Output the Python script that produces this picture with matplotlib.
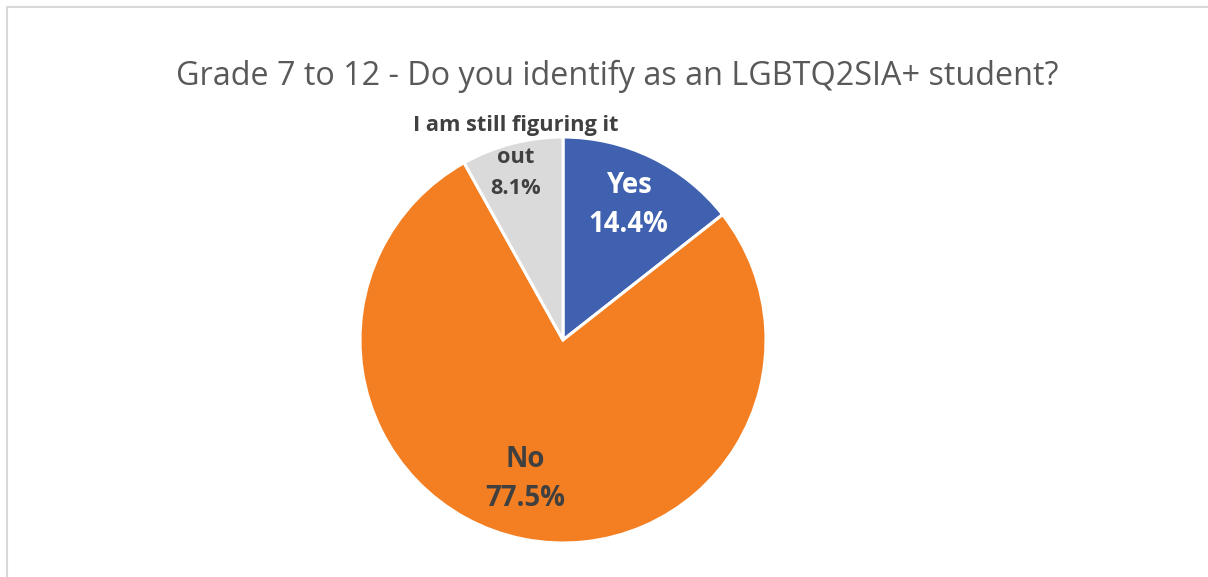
import numpy as np
import matplotlib.pyplot as plt
from matplotlib.patches import Rectangle

# survey answers, grades 7 to 12
answers = ['Yes', 'No', 'I am still figuring it\nout']
shares = [14.4, 77.5, 8.1]
colours = ['#3F61AF', '#F47F22', '#DADADA']
text_colours = ['white', '#404040', '#404040']
label_dist = [0.74, 0.71, 0.93]
label_turn = [0, -4, 0]          # degrees, nudges label off the wedge middle
label_size = [19.8, 19.8, 15.7]

W, H = 1208, 577
fig = plt.figure(figsize=(W / 100, H / 100), dpi=100)

# thin grey chart frame (right/bottom run off the image)
fig.patches.append(Rectangle((7 / W, -0.1), 1.2, (H - 7) / H + 0.1,
                             transform=fig.transFigure, fill=False,
                             edgecolor='#D9D9D9', linewidth=1.5))

cx, cy, R = 563, 340, 203
ax = fig.add_axes([(cx - R) / W, (H - cy - R) / H, 2 * R / W, 2 * R / H])
wedges, _ = ax.pie(shares, colors=colours, startangle=90, counterclock=False,
                   radius=1, wedgeprops=dict(edgecolor='white', linewidth=2.2))
ax.set_xlim(-1, 1)
ax.set_ylim(-1, 1)
ax.set_aspect('auto')
ax.axis('off')

# data labels, one text per line so the boxes stay tight
for w, name, val, tc, d, t, fs in zip(wedges, answers, shares, text_colours,
                                      label_dist, label_turn, label_size):
    mid = np.deg2rad((w.theta1 + w.theta2) / 2 + t)
    x, y = d * np.cos(mid), d * np.sin(mid)
    lines = f'{name}\n{val}%'.split('\n')
    step = 1.44 * fs
    for i, line in enumerate(lines):
        ax.annotate(line, (x, y), xytext=(0, ((len(lines) - 1) / 2 - i) * step),
                    textcoords='offset points', ha='center', va='center',
                    color=tc, fontsize=fs, fontweight='bold', family='Open Sans')

fig.text(617 / W, 1 - 76 / H,
         'Grade 7 to 12 - Do you identify as an LGBTQ2SIA+ student?',
         ha='center', va='center', fontsize=23.3, color='#595959',
         family='Open Sans')

fig.savefig('out.png', dpi=100)
